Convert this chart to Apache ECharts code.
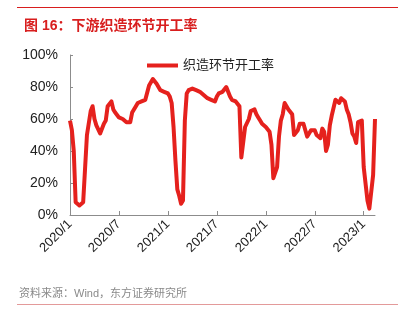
<!DOCTYPE html>
<html>
<head>
<meta charset="utf-8">
<script src="https://cdn.jsdelivr.net/npm/echarts@6/dist/echarts.min.js"></script>
<style>
html,body{margin:0;padding:0;background:#fff;}
#c{width:407px;height:326px;}
</style>
</head>
<body>
<div id="c"></div>
<script>
// Weekly textile weaving operating rate (%), Jan 2020 – Feb 2023
const seriesName = '织造环节开工率';
const tickLabels = ['2020/1','2020/7','2021/1','2021/7','2022/1','2022/7','2023/1'];
const yTicks = [0, 20, 40, 60, 80, 100];
const rateValues = [
  59,53,40,8,8,6,6,8,29,50,
  51,65,68,60,56,55,51,51,57,59,
  68,69,71,66,64,63,61,60,60,59,
  58,58,58,64,64,68,70,71,71,71,
  72,72,81,82,85,84,82,80,78,78,
  77,77,76,74,70,55,34,16,12,7,
  9,59,76,78,79,79,79,78,78,77,
  76,75,74,73,72,72,71,71,74,76,
  76,77,78,80,77,74,72,71,71,70,
  68,36,36,55,56,60,65,66,66,63,
  61,59,57,56,55,54,52,44,23,23,
  30,49,59,63,70,69,66,65,63,50,
  49,53,57,58,57,53,49,48,53,54,
  53,50,49,48,54,52,40,44,56,62,
  67,72,71,70,73,73,71,66,63,58,
  51,49,45,58,59,59,30,29,9,4,
  4,25,60
];
// weekly category dates
const weeks = [];
(function(){
  const d = new Date(Date.UTC(2020,0,3));
  for (let i = 0; i < rateValues.length; i++) {
    const t = new Date(d.getTime() + i*7*86400000);
    weeks.push(t.getUTCFullYear() + '-' + (t.getUTCMonth()+1) + '-' + t.getUTCDate());
  }
})();

const chart = echarts.init(document.getElementById('c'), null, {renderer:'canvas'});
const FONT = '"Liberation Sans", Arial, "Noto Sans CJK SC", sans-serif';
chart.setOption({
  backgroundColor: '#ffffff',
  animation: false,
  textStyle: {fontFamily: FONT},
  title: {
    text: '图 16：下游织造环节开工率',
    left: 19, top: 14,
    textStyle: {color: '#d81e1e', fontSize: 14, fontWeight: 'bold', fontFamily: FONT}
  },
  legend: {
    data: [seriesName],
    left: 142, top: 54,
    icon: 'rect', itemWidth: 31, itemHeight: 4,
    textStyle: {color: '#222', fontSize: 13, fontFamily: FONT}
  },
  grid: {left: 70, right: 32, top: 55, bottom: 111, containLabel: false},
  xAxis: {
    type: 'category',
    data: weeks,
    boundaryGap: false,
    axisLine: {lineStyle: {color: '#8c8c8c', width: 1}},
    axisTick: {show: true, inside: true, length: 4, interval: 25, lineStyle: {color: '#8c8c8c'}},
    axisLabel: {
      interval: 25, rotate: 45, margin: 7, color: '#222', fontSize: 13, fontFamily: FONT,
      formatter: function (v, idx) { return tickLabels[Math.round(idx/26)] || ''; }
    },
    splitLine: {show: false}
  },
  yAxis: {
    type: 'value',
    min: yTicks[0], max: yTicks[yTicks.length-1], interval: 20,
    axisLine: {show: true, lineStyle: {color: '#8c8c8c', width: 1}},
    axisTick: {show: true, inside: true, length: 3, lineStyle: {color: '#8c8c8c'}},
    axisLabel: {color: '#222', fontSize: 14, margin: 12, fontFamily: FONT, formatter: '{value}%'},
    splitLine: {show: false}
  },
  series: [{
    name: seriesName,
    type: 'line',
    data: rateValues,
    showSymbol: false,
    symbol: 'none',
    lineStyle: {color: '#e5211d', width: 4, join: 'round'},
    itemStyle: {color: '#e5211d'}
  }],
  graphic: [
    {type: 'line', shape: {x1: 17, y1: 7.5, x2: 398, y2: 7.5}, style: {stroke: '#d81e1e', lineWidth: 1}},
    {type: 'text', left: 19, top: 288, style: {text: '资料来源：Wind，东方证券研究所', fill: '#8a8a8a', font: '11px ' + FONT}},
    {type: 'line', shape: {x1: 17, y1: 304.5, x2: 398, y2: 304.5}, style: {stroke: '#e39a9a', lineWidth: 1}}
  ]
});
</script>
</body>
</html>
